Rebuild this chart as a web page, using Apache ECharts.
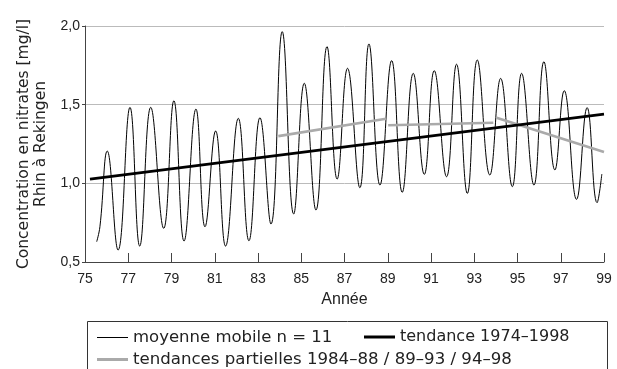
<!DOCTYPE html>
<html>
<head>
<meta charset="utf-8">
<script src="https://cdn.jsdelivr.net/npm/echarts@6/dist/echarts.min.js"></script>
<style>
html,body{margin:0;padding:0;background:#fff;}
#chart{width:617px;height:369px;}
</style>
</head>
<body>
<div id="chart"></div>
<script>
// Moving average (n = 11): [year, mg/l] read at start, peaks, troughs, end
const movingAvg = [
  [75.54,0.629],[75.69,0.724],[76.03,1.205],[76.53,0.576],[77.08,1.483],[77.53,0.601],
  [78.04,1.483],[78.64,0.714],[79.11,1.525],[79.58,0.633],[80.13,1.472],[80.55,0.724],
  [81.04,1.333],[81.50,0.601],[82.09,1.413],[82.58,0.635],[83.09,1.417],[83.60,0.741],
  [84.12,1.964],[84.65,0.805],[85.14,1.636],[85.68,0.830],[86.19,1.869],[86.66,1.027],
  [87.14,1.731],[87.71,0.972],[88.13,1.886],[88.64,0.989],[89.18,1.780],[89.67,0.943],
  [90.18,1.699],[90.69,1.057],[91.15,1.716],[91.72,1.042],[92.18,1.757],[92.68,0.936],
  [93.14,1.784],[93.72,1.053],[94.22,1.667],[94.76,0.979],[95.19,1.699],[95.76,0.989],
  [96.22,1.773],[96.73,1.085],[97.16,1.589],[97.73,0.898],[98.22,1.481],[98.68,0.877],
  [98.90,1.059]
];
// Overall trend 1974-1998
const trendAll = [[75.23,1.027],[99.0,1.44]];
// Partial trends
const trend8488 = [[83.94,1.30],[88.92,1.411]];
const trend8993 = [[89.02,1.369],[93.88,1.385]];
const trend9498 = [[94.03,1.417],[99.0,1.199]];

const yTicks = [0.5,1.0,1.5,2.0];
const names = {
  ma: 'moyenne mobile n = 11',
  tr: 'tendance 1974\u20131998',
  pt: 'tendances partielles 1984\u201388 / 89\u201393 / 94\u201398'
};

const chart = echarts.init(document.getElementById('chart'), null, {renderer:'canvas'});
const axisColor = '#444';
const font = 'Liberation Sans, Arial, sans-serif';
const legendBase = {icon:'rect', itemWidth:31, padding:0, selectedMode:false};
chart.setOption({
  animation:false,
  backgroundColor:'#fff',
  textStyle:{fontFamily:font},
  grid:{left:85, right:13, top:26, bottom:107, containLabel:false},
  xAxis:{
    type:'value', min:75, max:99, interval:2,
    name:'Ann\u00e9e', nameLocation:'middle', nameGap:30,
    nameTextStyle:{fontSize:16, color:'#222', fontFamily:font},
    axisLine:{show:true, lineStyle:{color:axisColor, width:1}},
    axisTick:{show:true, inside:true, length:9, lineStyle:{color:axisColor}},
    axisLabel:{fontSize:14, color:'#222', margin:10, fontFamily:font},
    splitLine:{show:false}
  },
  yAxis:{
    type:'value', min:yTicks[0], max:yTicks[yTicks.length-1], interval:0.5,
    name:'Concentration en nitrates [mg/l]\nRhin \u00e0 Rekingen',
    nameLocation:'middle', nameGap:36, nameRotate:90,
    nameTextStyle:{fontSize:15.5, color:'#222', lineHeight:17, fontFamily:'DejaVu Sans'},
    axisLine:{show:true, lineStyle:{color:axisColor, width:1}},
    axisTick:{show:true, length:3, lineStyle:{color:axisColor}},
    axisLabel:{fontSize:14, color:'#222', margin:5, fontFamily:font,
      formatter:v=>v.toFixed(1).replace('.',',')},
    splitLine:{show:true, lineStyle:{color:'#bbb', width:1}}
  },
  legend:[
    Object.assign({left:97, top:329, itemHeight:1,
      textStyle:{fontSize:16.5, color:'#222', fontFamily:'DejaVu Sans'},
      data:[{name:names.ma}]}, legendBase),
    Object.assign({left:364, top:329, itemHeight:3,
      textStyle:{fontSize:16, color:'#222', fontFamily:'DejaVu Sans'},
      data:[{name:names.tr}]}, legendBase),
    Object.assign({left:97, top:351, itemHeight:3,
      textStyle:{fontSize:16.6, color:'#222', fontFamily:'DejaVu Sans'},
      data:[{name:names.pt}]}, legendBase)
  ],
  graphic:[{type:'rect', shape:{x:87.5, y:321.5, width:520, height:60},
    style:{fill:null, stroke:'#333', lineWidth:1}, silent:true}],
  series:[
    {name:names.ma, type:'line', data:movingAvg, smooth:0.45, symbol:'none',
     lineStyle:{color:'#000', width:1}, itemStyle:{color:'#000'}, z:2},
    {name:names.tr, type:'line', data:trendAll, symbol:'none',
     lineStyle:{color:'#000', width:2.6}, itemStyle:{color:'#000'}, z:4},
    {name:names.pt, type:'line', data:trend8488, symbol:'none',
     lineStyle:{color:'#aaa', width:2.6}, itemStyle:{color:'#aaa'}, z:3},
    {name:names.pt, type:'line', data:trend8993, symbol:'none',
     lineStyle:{color:'#aaa', width:2.6}, itemStyle:{color:'#aaa'}, z:3},
    {name:names.pt, type:'line', data:trend9498, symbol:'none',
     lineStyle:{color:'#aaa', width:2.6}, itemStyle:{color:'#aaa'}, z:3}
  ]
});
</script>
</body>
</html>
